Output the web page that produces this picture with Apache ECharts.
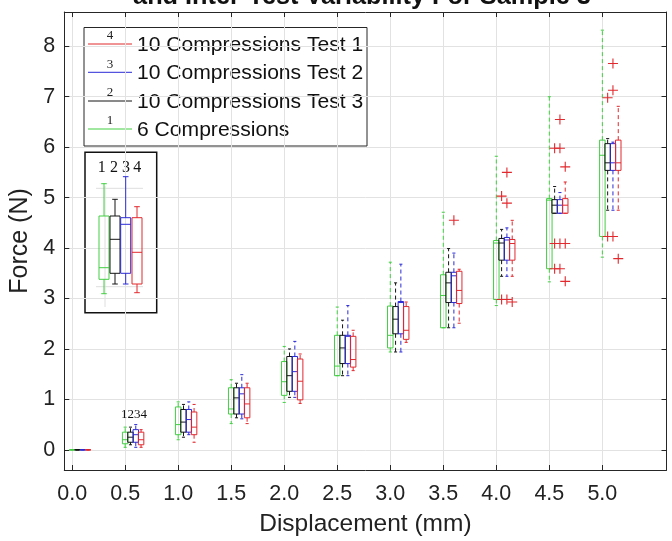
<!DOCTYPE html>
<html><head><meta charset="utf-8">
<script src="https://cdn.jsdelivr.net/npm/echarts@6/dist/echarts.min.js"></script>
<style>html,body{margin:0;padding:0;background:#fff}#c{width:672px;height:541px}</style>
</head><body><div id="c"></div>
<script>
// ---------------- DATA ----------------
const displacements = [0, 0.5, 1.0, 1.5, 2.0, 2.5, 3.0, 3.5, 4.0, 4.5, 5.0];
const yTickValues = [0, 1, 2, 3, 4, 5, 6, 7, 8];
const titleText = 'and Inter-Test Variability For Sample 3';
const seriesNames = ['10 Compressions Test 1', '10 Compressions Test 2', '10 Compressions Test 3', '6 Compressions'];
const legendNumbers = ['4', '3', '2', '1'];

// each entry: [lower whisker, Q1, median, Q3, upper whisker] per displacement
const sixCompressions = [
  [0,0,0,0,0],[0.05,0.12,0.2,0.35,0.45],[0.2,0.3,0.5,0.85,0.95],[0.52,0.71,0.81,1.23,1.39],
  [0.94,1.08,1.35,1.75,2.05],[1.47,1.47,1.66,2.27,2.83],[1.94,2.02,2.27,2.85,3.72],
  [2.42,2.42,3.06,3.47,4.71],[2.86,2.98,4.1,4.15,5.82],[3.33,3.59,4.95,4.98,7.0],[3.82,4.23,5.84,6.14,8.32]
];
const test3 = [
  [0,0,0,0,0],[0.1,0.15,0.25,0.35,0.45],[0.25,0.35,0.55,0.8,0.9],[0.635,0.71,1.03,1.23,1.32],
  [1.04,1.16,1.47,1.85,2.0],[1.47,1.71,2.02,2.27,2.57],[1.94,2.3,2.59,2.84,3.31],
  [2.42,2.92,3.31,3.52,3.99],[3.44,3.76,4.1,4.19,4.37],[4.69,4.69,4.85,4.96,5.22],[4.75,5.54,5.69,6.07,6.17]
];
const test2 = [
  [0,0,0,0,0],[0.05,0.15,0.3,0.4,0.5],[0.3,0.35,0.6,0.8,0.95],[0.615,0.71,1.11,1.23,1.49],
  [1.04,1.16,1.55,1.85,2.15],[1.47,1.71,2.25,2.27,2.86],[1.94,2.3,2.92,2.94,3.68],
  [2.42,2.92,3.45,3.52,3.9],[3.44,3.76,4.16,4.21,4.4],[4.69,4.69,4.85,4.96,5.1],[4.75,5.54,5.69,6.07,6.1]
];
const test1 = [
  [0,0,0,0,0],[0.05,0.1,0.2,0.35,0.4],[0.15,0.3,0.45,0.75,0.9],[0.52,0.635,0.91,1.23,1.32],
  [0.92,0.99,1.36,1.8,1.9],[1.57,1.64,1.79,2.25,2.37],[2.13,2.19,2.37,2.84,2.93],
  [2.51,2.9,3.16,3.54,3.58],[3.44,3.76,4.09,4.17,4.55],[4.69,4.69,4.85,4.98,5.31],[4.75,5.54,5.69,6.14,6.81]
];
// outliers: [displacement, force]
const outliersTest3 = [[4.0,5.03],[4.0,2.98],[4.5,5.98],[4.5,4.09],[4.5,3.59],[5.0,6.98],[5.0,4.23]];
const outliersTest2 = [[3.5,4.55],[4.0,5.50],[4.0,4.89],[4.0,2.98],[4.5,6.55],[4.5,5.98],[4.5,4.09],[4.5,3.59],[5.0,7.66],[5.0,7.13],[5.0,4.23]];
const outliersTest1 = [[4.0,2.93],[4.5,5.61],[4.5,4.09],[4.5,3.34],[5.0,3.79]];

// inset illustration boxes (own units): [lower, Q1, median, Q3, upper]
const insetBoxes = [
  [19, 33.4, 45, 96.7, 129],
  [28.7, 39.4, 73.4, 96.7, 113.4],
  [28.7, 39.4, 88.4, 95, 136],
  [20, 28.7, 60.4, 95, 106]
];
const insetLabels = ['1', '2', '3', '4'];

// ---------------- STYLE ----------------
const FONT = "'Liberation Sans', Arial, Helvetica, sans-serif";
const SERIF = "'Liberation Serif', 'Times New Roman', serif";
const AXIS_COLOR = '#262626';
const GRID_COLOR = '#e2e2e2';
const C_RED = '#e2282d', C_BLUE = '#2a2ad6', C_BLACK = '#151515', C_GREEN = '#42cf42';
const BOX_W = 5.5;

function boxRenderer(offset, color, boxW, dashed) {
  return function (params, api) {
    const x = api.value(0) + offset;
    const vals = [1, 2, 3, 4, 5].map(i => api.value(i));
    const ys = vals.map(v => api.coord([x, v])[1]);
    const cx = api.coord([x, vals[2]])[0];
    const hw = boxW / 2, cw = boxW * 0.28;
    const solid = { stroke: color, lineWidth: 1, fill: null };
    const wh = { stroke: color, lineWidth: 1, fill: null, lineDash: dashed ? [4, 3] : null };
    return {
      type: 'group',
      children: [
        { type: 'line', shape: { x1: cx, y1: ys[3], x2: cx, y2: ys[4] }, style: wh },
        { type: 'line', shape: { x1: cx, y1: ys[1], x2: cx, y2: ys[0] }, style: wh },
        { type: 'line', shape: { x1: cx - cw, y1: ys[4], x2: cx + cw, y2: ys[4] }, style: solid },
        { type: 'line', shape: { x1: cx - cw, y1: ys[0], x2: cx + cw, y2: ys[0] }, style: solid },
        { type: 'rect', shape: { x: cx - hw, y: ys[3], width: boxW, height: ys[1] - ys[3] }, style: { stroke: color, fill: 'rgba(0,0,0,0)', lineWidth: 1 } },
        { type: 'line', shape: { x1: cx - hw, y1: ys[2], x2: cx + hw, y2: ys[2] }, style: solid }
      ]
    };
  };
}

function boxSeries(name, arr, color, offset) {
  return {
    type: 'custom', name, xAxisIndex: 0, yAxisIndex: 0, z: 5,
    data: displacements.map((d, i) => [d].concat(arr[i])),
    encode: { x: 0, y: [1, 2, 3, 4, 5] },
    renderItem: boxRenderer(offset, color, BOX_W, true)
  };
}

const PLUS = 'path://M4.45,0h1.1v10h-1.1zM0,4.45h10v1.1h-10z';
function outlierSeries(arr, offset) {
  return {
    type: 'scatter', xAxisIndex: 0, yAxisIndex: 0, z: 6,
    symbol: PLUS, symbolSize: 10, itemStyle: { color: C_RED, opacity: 1 },
    data: arr.map(p => [p[0] + offset, p[1]])
  };
}

const insetPositions = [19, 30, 40.7, 52];
const insetColors = [C_GREEN, C_BLACK, C_BLUE, C_RED];
const insetSeries = insetBoxes.map((b, i) => ({
  type: 'custom', xAxisIndex: 2, yAxisIndex: 2, zlevel: 1, z: 120,
  data: [[insetPositions[i]].concat(b)],
  encode: { x: 0, y: [1, 2, 3, 4, 5] },
  renderItem: boxRenderer(0, insetColors[i], 10, false)
}));

// legend graphics
const legendColors = [C_RED, C_BLUE, C_BLACK, C_GREEN];
const legendY = [44, 72.3, 101, 129];
const legendChildren = [
  { type: 'rect', shape: { x: 84, y: 27.5, width: 283, height: 118.5 }, style: { fill: '#fff', stroke: AXIS_COLOR, lineWidth: 1 } }
];
seriesNames.forEach((n, i) => {
  legendChildren.push({ type: 'line', shape: { x1: 88, y1: legendY[i], x2: 132, y2: legendY[i] }, style: { stroke: legendColors[i], lineWidth: 1 } });
  legendChildren.push({ type: 'text', style: { text: legendNumbers[i], x: 110, y: legendY[i] - 8, align: 'center', verticalAlign: 'middle', font: '13px ' + SERIF, fill: '#222' } });
  legendChildren.push({ type: 'text', style: { text: n, x: 137, y: legendY[i] + 1, align: 'left', verticalAlign: 'middle', font: '21.1px ' + FONT, fill: '#111' } });
});

const insetChildren = [
  { type: 'rect', shape: { x: 85, y: 152.3, width: 71.7, height: 160.4 }, style: { fill: '#fff', stroke: '#111', lineWidth: 1.5 } },
  { type: 'line', shape: { x1: 105, y1: 186, x2: 105, y2: 307 }, style: { stroke: '#dedede', lineWidth: 1 } },
  { type: 'line', shape: { x1: 96, y1: 188.3, x2: 143, y2: 188.3 }, style: { stroke: '#dedede', lineWidth: 1 } },
  { type: 'line', shape: { x1: 96, y1: 286.7, x2: 143, y2: 286.7 }, style: { stroke: '#dedede', lineWidth: 1 } }
];
const insetLabelX = [101.7, 114, 126, 137.3];
insetLabels.forEach((l, i) => insetChildren.push({ type: 'text', style: { text: l, x: insetLabelX[i], y: 167.5, align: 'center', verticalAlign: 'middle', font: '16px ' + SERIF, fill: '#111' } }));

const chart = echarts.init(document.getElementById('c'));
const commonX = { type: 'value', min: -0.074, max: 5.605 };
const commonY = { type: 'value', min: -0.4, max: 8.68 };
chart.setOption({
  animation: false,
  backgroundColor: '#fff',
  textStyle: { fontFamily: FONT },
  grid: [
    { left: 64.3, right: 5.5, top: 12, bottom: 71, outerBoundsMode: 'none', containLabel: false },
    { left: 85, top: 152.3, width: 71.7, height: 160.4, outerBoundsMode: 'none', containLabel: false }
  ],
  xAxis: [
    Object.assign({}, commonX, {
      gridIndex: 0, position: 'bottom',
      name: 'Displacement (mm)', nameLocation: 'middle', nameGap: 42,
      nameTextStyle: { fontSize: 24.5, color: '#222', fontFamily: FONT },
      axisLine: { show: true, onZero: false, lineStyle: { color: AXIS_COLOR, width: 1 } },
      axisTick: { show: true, inside: true, length: 5, customValues: displacements, lineStyle: { color: AXIS_COLOR } },
      axisLabel: { show: true, customValues: displacements, formatter: v => v.toFixed(1), fontSize: 21.5, color: '#222', margin: 13, fontFamily: FONT },
      splitLine: { show: true, lineStyle: { color: GRID_COLOR, width: 1 } }
    }),
    Object.assign({}, commonX, {
      gridIndex: 0, position: 'top',
      axisLine: { show: true, onZero: false, lineStyle: { color: AXIS_COLOR, width: 1 } },
      axisTick: { show: true, inside: true, length: 5, customValues: displacements, lineStyle: { color: AXIS_COLOR } },
      axisLabel: { show: false }, splitLine: { show: false }
    }),
    { type: 'value', gridIndex: 1, min: 0, max: 71.7, show: false }
  ],
  yAxis: [
    Object.assign({}, commonY, {
      gridIndex: 0, position: 'left',
      name: 'Force (N)', nameLocation: 'middle', nameGap: 27,
      nameTextStyle: { fontSize: 25, color: '#222', fontFamily: FONT },
      axisLine: { show: true, onZero: false, lineStyle: { color: AXIS_COLOR, width: 1 } },
      axisTick: { show: true, inside: true, length: 5, customValues: yTickValues, lineStyle: { color: AXIS_COLOR } },
      axisLabel: { show: true, customValues: yTickValues, fontSize: 21.5, color: '#222', margin: 9, fontFamily: FONT },
      splitLine: { show: true, lineStyle: { color: GRID_COLOR, width: 1 } }
    }),
    Object.assign({}, commonY, {
      gridIndex: 0, position: 'right',
      axisLine: { show: true, onZero: false, lineStyle: { color: AXIS_COLOR, width: 1 } },
      axisTick: { show: true, inside: true, length: 5, customValues: yTickValues, lineStyle: { color: AXIS_COLOR } },
      axisLabel: { show: false }, splitLine: { show: false }
    }),
    { type: 'value', gridIndex: 1, min: 0, max: 160.4, show: false }
  ],
  series: [
    boxSeries(seriesNames[3], sixCompressions, C_GREEN, 0),
    boxSeries(seriesNames[2], test3, C_BLACK, 0.05),
    boxSeries(seriesNames[1], test2, C_BLUE, 0.1),
    boxSeries(seriesNames[0], test1, C_RED, 0.15),
    outlierSeries(outliersTest3, 0.05),
    outlierSeries(outliersTest2, 0.1),
    outlierSeries(outliersTest1, 0.15)
  ].concat(insetSeries),
  graphic: [
    { type: 'text', z: 50, style: { text: titleText, x: 362, y: -2.5, align: 'center', verticalAlign: 'middle', font: 'bold 25.3px ' + FONT, fill: '#111' } },
    { type: 'text', z: 50, style: { text: '1234', x: 134, y: 415, align: 'center', verticalAlign: 'middle', font: '13px ' + SERIF, fill: '#111' } },
    { type: 'group', zlevel: 1, z: 100, children: legendChildren },
    { type: 'group', zlevel: 1, z: 100, children: insetChildren }
  ]
});
</script>
</body></html>
